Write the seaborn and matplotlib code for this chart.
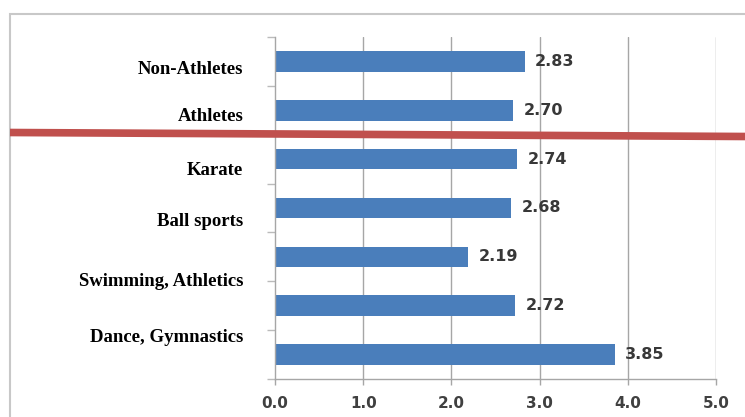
import matplotlib
matplotlib.use("Agg")
import matplotlib.pyplot as plt
import seaborn as sns
import pandas as pd
import numpy as np
from matplotlib.patches import Rectangle
from matplotlib.lines import Line2D

# Mean scores per group (top to bottom)
bar_ids = ["b1", "b2", "b3", "b4", "b5", "b6", "b7"]
scores = [2.83, 2.70, 2.74, 2.68, 2.19, 2.72, 3.85]

# Group names written beside the bars
group_labels = ["Non-Athletes", "Athletes", "Karate", "Ball sports",
                "Swimming, Athletics", "Dance, Gymnastics"]
group_label_y = [0.17, 1.13, 2.23, 3.27, 4.5, 5.65]

x_ticks = [0.0, 1.0, 2.0, 3.0, 4.0, 5.0]

df = pd.DataFrame({"group": bar_ids, "score": scores})

sns.set_theme(style="white")
fig = plt.figure(figsize=(7.45, 4.17), dpi=100)
fig.patch.set_facecolor("white")
ax = fig.add_axes([275 / 745, 1 - 379 / 417, (716 - 275) / 745, (379 - 37) / 417])

sns.barplot(data=df, y="group", x="score", orient="h", color="#4A7EBB",
            saturation=1, width=0.42, linewidth=0, ax=ax)

ax.set_xlim(0, 5)
ax.set_ylim(6.5, -0.5)
ax.set_xlabel("")
ax.set_ylabel("")

# vertical gridlines
for xv in x_ticks[1:]:
    ax.axvline(xv, color="#A6A6A6", lw=1.0, zorder=0)

ax.set_xticks(x_ticks)
ax.set_xticklabels([f"{v:.1f}" for v in x_ticks], fontsize=11,
                   fontweight="bold", color="#404040")
ax.tick_params(axis="x", which="major", direction="out", length=4,
               width=1, color="#A6A6A6", pad=8, bottom=True)

ax.set_yticks(np.arange(-0.5, 7.0, 1.0), minor=True)
ax.set_yticks([])
ax.tick_params(axis="y", which="minor", direction="out", length=6,
               width=1, color="#BBBBBB", left=True)

for side in ["top", "right"]:
    ax.spines[side].set_visible(False)
for side in ["left", "bottom"]:
    ax.spines[side].set_color("#A6A6A6")
    ax.spines[side].set_linewidth(1.0)

# value labels at bar ends
for i, v in enumerate(scores):
    ax.text(v + 0.12, i, f"{v:.2f}", va="center", ha="left", fontsize=11.5,
            fontweight="bold", color="#383838")

# group names to the left of the plot
for lab, yv in zip(group_labels, group_label_y):
    ax.text(-0.36, yv, lab, ha="right", va="center", fontsize=13.5,
            fontweight="bold", family="Liberation Serif", color="black",
            transform=ax.transData, clip_on=False)

# outer chart frame
fig.add_artist(Rectangle((10 / 745, -0.1), 1.1, 1.1 - 14 / 417,
                         transform=fig.transFigure, fill=False,
                         edgecolor="#C8C8C8", lw=1.5))

# red marker line across the chart
fig.add_artist(Line2D([10 / 745, 1.0], [1 - 132.5 / 417, 1 - 136.5 / 417],
                      transform=fig.transFigure, color="#C0504D", lw=5.5,
                      solid_capstyle="butt"))

fig.savefig("out.png", dpi=100)
